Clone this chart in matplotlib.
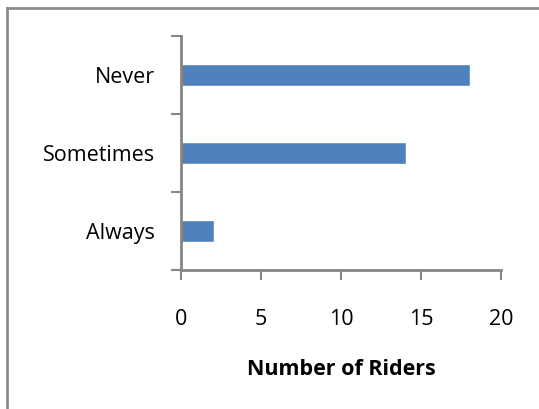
import matplotlib.pyplot as plt
from matplotlib.lines import Line2D

categories = ['Always', 'Sometimes', 'Never']
riders = [2, 14, 18]
x_ticks = [0, 5, 10, 15, 20]

plt.rcParams['font.family'] = ['Open Sans', 'DejaVu Sans']

fig = plt.figure(figsize=(5.39, 4.09), dpi=100)
ax = fig.add_axes([181 / 539, 1 - 270 / 409, 320 / 539, 234 / 409])

pos = range(len(categories))
ax.barh(pos, riders, height=0.25, color='#4F81BD', edgecolor='#5B8CC8', linewidth=0.5)

ax.set_xlim(0, 20)
ax.set_ylim(-0.5, len(categories) - 0.5)
ax.set_xticks(x_ticks)
ax.set_xticklabels([str(t) for t in x_ticks], fontsize=15.5)

# category labels in between, ticks on the dividers
ax.set_yticks([p - 0.5 for p in pos] + [len(categories) - 0.5])
ax.set_yticklabels([])
ax.set_yticks(list(pos), minor=True)
ax.set_yticklabels(categories, minor=True, fontsize=15.5)
ax.tick_params(axis='y', which='minor', length=0, pad=19)
ax.tick_params(axis='both', which='major', length=7, width=1.5, color='#868686', direction='out')
ax.tick_params(axis='x', pad=21)

for s in ['top', 'right']:
    ax.spines[s].set_visible(False)
for s in ['left', 'bottom']:
    ax.spines[s].set_color('#868686')
    ax.spines[s].set_linewidth(2)

ax.set_xlabel('Number of Riders', fontsize=15.5, fontweight='bold', labelpad=21)

# chart area border (cut off at right and bottom)
fig.add_artist(Line2D([7 / 539, 7 / 539], [0, 1 - 8 / 409], transform=fig.transFigure,
                      color='#8c8c8c', linewidth=2))
fig.add_artist(Line2D([7 / 539, 1], [1 - 8 / 409, 1 - 8 / 409], transform=fig.transFigure,
                      color='#8c8c8c', linewidth=2))

fig.savefig('out.png', dpi=100)
